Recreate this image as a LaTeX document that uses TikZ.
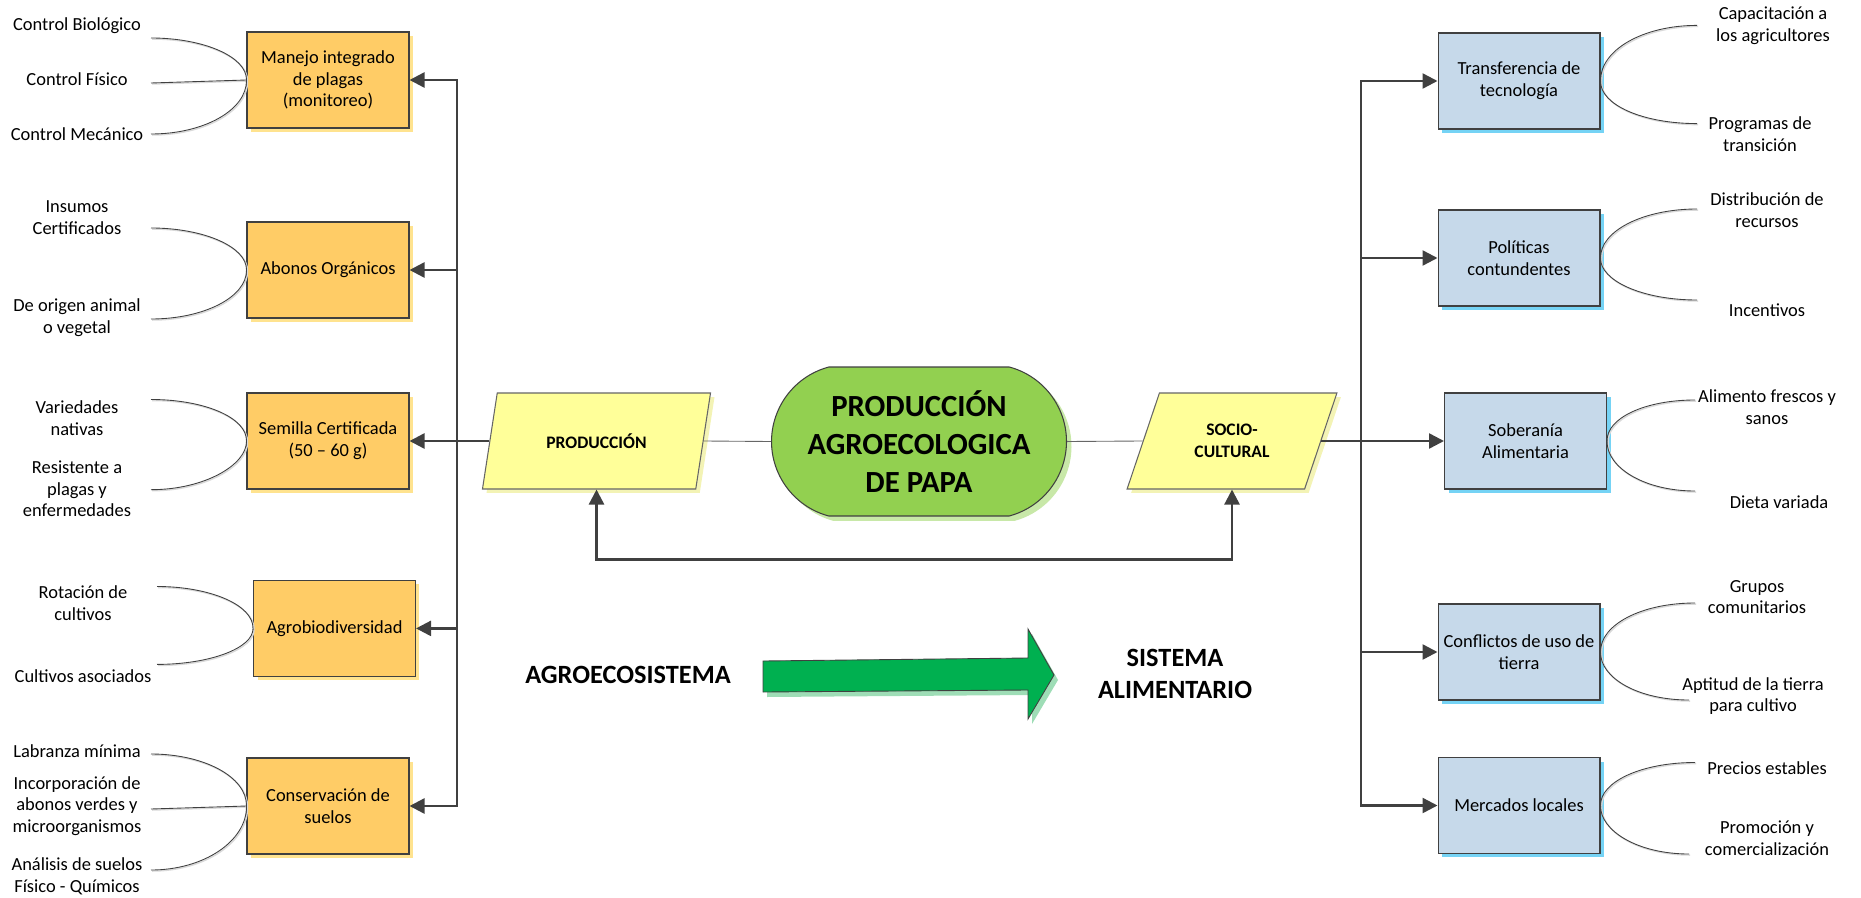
\documentclass[tikz,border=0pt]{standalone}
\usepackage{fontspec}
\setmainfont{Carlito}
\usetikzlibrary{shapes.geometric,shapes.misc,shadows,arrows.meta}

\definecolor{naranja}{HTML}{FFCC66}
\definecolor{sombranaranja}{HTML}{FFE38F}
\definecolor{azul}{HTML}{C6D9EA}
\definecolor{sombraazul}{HTML}{75D3F5}
\definecolor{amarillo}{HTML}{FFFF99}
\definecolor{sombraamarillo}{HTML}{F3F3B5}
\definecolor{verde}{HTML}{92D050}
\definecolor{sombraverde}{HTML}{C8E8A8}
\definecolor{verdeflecha}{HTML}{00B050}
\definecolor{sombraflecha}{HTML}{9EDDB6}
\definecolor{borde}{HTML}{404040}

\begin{document}
\begin{tikzpicture}[x=0.02cm, y=-0.02cm,
    texto/.style={font=\fontsize{10.5}{12.35}\selectfont, align=center, inner sep=0pt},
    caja/.style={texto, draw=borde, line width=0.6pt, minimum width=3.24cm, minimum height=1.92cm},
    cajaizq/.style={caja, fill=naranja, drop shadow={shadow xshift=0.08cm, shadow yshift=-0.08cm, fill=sombranaranja, opacity=1}},
    cajader/.style={caja, fill=azul, drop shadow={shadow xshift=0.08cm, shadow yshift=-0.08cm, fill=sombraazul, opacity=1}},
    paralelo/.style={trapezium, trapezium left angle=63.4, trapezium right angle=116.6, trapezium stretches=true,
        draw=borde!80, line width=0.6pt, fill=amarillo, minimum height=1.92cm, align=center, inner sep=0pt,
        font=\bfseries\fontsize{10}{12.35}\selectfont,
        drop shadow={shadow xshift=0.08cm, shadow yshift=-0.08cm, fill=sombraamarillo, opacity=1}},
    centro/.style={rounded rectangle, rounded rectangle arc length=150, draw=borde, line width=0.6pt, fill=verde,
        minimum width=5.4cm, minimum height=2.98cm, inner xsep=-0.25cm, inner ysep=0pt, align=center,
        font=\bfseries\fontsize{17.5}{21.6}\selectfont,
        drop shadow={shadow xshift=0.1cm, shadow yshift=-0.1cm, fill=sombraverde, opacity=1}},
    titulo/.style={font=\bfseries\fontsize{15}{18.2}\selectfont, align=center, inner sep=0pt},
    linea/.style={draw=borde, line width=1.4pt},
    flecha/.style={linea, -{Triangle[length=0.3cm, width=0.3cm]}},
    fina/.style={draw=borde!80, line width=0.5pt},
    rama/.style={draw=borde, line width=0.5pt, preaction={draw=black!15, line width=0.8pt, transform canvas={xshift=0.6pt, yshift=-0.6pt}}}
]
    \useasboundingbox (0,0) rectangle (1861,898);

    % cajas de la izquierda
    \node[cajaizq] (manejo) at (328,80) {Manejo integrado\\de plagas\\(monitoreo)};
    \node[cajaizq] (abonos) at (328,270) {Abonos Orgánicos};
    \node[cajaizq] (semilla) at (328,441) {Semilla Certificada\\(50 -- 60 g)};
    \node[cajaizq] (agro) at (334.5,628.4) {Agrobiodiversidad};
    \node[cajaizq] (suelos) at (328,806) {Conservación de\\suelos};

    % cajas de la derecha
    \node[cajader] (transf) at (1519,81) {Transferencia de\\tecnología};
    \node[cajader] (politicas) at (1519,258) {Políticas\\contundentes};
    \node[cajader] (soberania) at (1525.5,441) {Soberanía\\Alimentaria};
    \node[cajader] (conflictos) at (1519,652) {Conflictos de uso de\\tierra};
    \node[cajader] (mercados) at (1519,805.5) {Mercados locales};

    % centro
    \node[paralelo, minimum width=4.58cm] (prod) at (596.5,441) {PRODUCCIÓN};
    \node[paralelo, minimum width=4.2cm] (socio) at (1232,441) {SOCIO-\\CULTURAL};
    \node[centro] (papa) at (919,441.5) {PRODUCCIÓN\\AGROECOLOGICA\\DE PAPA};

    \coordinate (troncoizq) at (457,441);
    \coordinate (troncoder) at (1361,441);

    \draw[fina] (prod.right side) -- (papa.west);
    \draw[fina] (papa.east) -- (socio.left side);
    \draw[linea] (prod.left side) -- (troncoizq);
    \draw[linea] (socio.right side) -- (troncoder);

    \draw[flecha] (troncoizq) |- (manejo.east);
    \draw[flecha] (troncoizq) |- (abonos.east);
    \draw[flecha] (troncoizq) -- (semilla.east);
    \draw[flecha] (troncoizq) |- (agro.east);
    \draw[flecha] (troncoizq) |- (suelos.east);

    \draw[flecha] (troncoder) |- (transf.west);
    \draw[flecha] (troncoder) |- (politicas.west);
    \draw[flecha] (troncoder) -- (soberania.west);
    \draw[flecha] (troncoder) |- (conflictos.west);
    \draw[flecha] (troncoder) |- (mercados.west);

    \draw[linea, {Triangle[length=0.3cm, width=0.3cm]}-{Triangle[length=0.3cm, width=0.3cm]}]
        (prod.south) -- ++(0,70) -| (socio.south);

    % flecha grande
    \fill[sombraflecha, shift={(4,5)}] (763,661) -- (1028,658) -- (1028,629) -- (1054,675) -- (1028,719) -- (1028,690) -- (763,692) -- cycle;
    \filldraw[fill=verdeflecha, draw=borde, line width=0.5pt] (763,661) -- (1028,658) -- (1028,629) -- (1054,675) -- (1028,719) -- (1028,690) -- (763,692) -- cycle;
    \node[titulo] (agroeco) at (628,675) {AGROECOSISTEMA};
    \node[titulo] (sistema) at (1175,674) {SISTEMA\\ALIMENTARIO};

    % hojas de la izquierda
    \node[texto] (biologico) at (77,26) {Control Biológico};
    \node[texto] (fisico) at (77,79) {Control Físico};
    \node[texto] (mecanico) at (77,134) {Control Mecánico};
    \node[texto] (insumos) at (77,218) {Insumos\\Certificados};
    \node[texto] (origen) at (77,318) {De origen animal\\o vegetal};
    \node[texto] (variedades) at (77,418.5) {Variedades\\nativas};
    \node[texto] (resistente) at (77,489) {Resistente a\\plagas y\\enfermedades};
    \node[texto] (rotacion) at (83,603) {Rotación de\\cultivos};
    \node[texto] (asociados) at (83,675.7) {Cultivos asociados};
    \node[texto] (labranza) at (77,751) {Labranza mínima};
    \node[texto] (incorporacion) at (77,806) {Incorporación de\\abonos verdes y\\microorganismos};
    \node[texto] (analisis) at (77,876.5) {Análisis de suelos\\Físico - Químicos};

    % hojas de la derecha
    \node[texto] (capacitacion) at (1773,25.5) {Capacitación a\\los agricultores};
    \node[texto] (programas) at (1760,134) {Programas de\\transición};
    \node[texto] (distribucion) at (1767,210) {Distribución de\\recursos};
    \node[texto] (incentivos) at (1767,310) {Incentivos};
    \node[texto] (alimento) at (1767,407.5) {Alimento frescos y\\sanos};
    \node[texto] (dieta) at (1779,502) {Dieta variada};
    \node[texto] (grupos) at (1757,597) {Grupos\\comunitarios};
    \node[texto] (aptitud) at (1753,696) {Aptitud de la tierra\\para cultivo};
    \node[texto] (precios) at (1767,767.7) {Precios estables};
    \node[texto] (promocion) at (1767,838.5) {Promoción y\\comercialización};

    % extremos de las ramas
    \coordinate (r1) at (151,38);
    \coordinate (r2) at (151,83);
    \coordinate (r3) at (151,134);
    \coordinate (r4) at (151,228);
    \coordinate (r5) at (151,319);
    \coordinate (r6) at (151,399.5);
    \coordinate (r7) at (151,489.7);
    \coordinate (r8) at (157,586.5);
    \coordinate (r9) at (157,664.4);
    \coordinate (r10) at (151,754);
    \coordinate (r11) at (151,809);
    \coordinate (r12) at (151,870);

    \draw[rama] (r1) .. controls (204,38) and (247,57) .. (manejo.west);
    \draw[rama] (r2) -- (manejo.west);
    \draw[rama] (r3) .. controls (204,134) and (247,110) .. (manejo.west);
    \draw[rama] (r4) .. controls (204,228) and (247,247) .. (abonos.west);
    \draw[rama] (r5) .. controls (204,319) and (247,297) .. (abonos.west);
    \draw[rama] (r6) .. controls (204,399.5) and (247,417.5) .. (semilla.west);
    \draw[rama] (r7) .. controls (204,489.7) and (247,465) .. (semilla.west);
    \draw[rama] (r8) .. controls (210,586.5) and (253.5,605) .. (agro.west);
    \draw[rama] (r9) .. controls (210,664.4) and (253.5,648) .. (agro.west);
    \draw[rama] (r10) .. controls (204,754) and (247,777) .. (suelos.west);
    \draw[rama] (r11) -- (suelos.west);
    \draw[rama] (r12) .. controls (204,870) and (247,841) .. (suelos.west);

    \coordinate (s1) at (1697,25.4);
    \coordinate (s2) at (1697,123.6);
    \coordinate (s3) at (1697,209);
    \coordinate (s4) at (1697,300);
    \coordinate (s5) at (1695,400);
    \coordinate (s6) at (1695,491);
    \coordinate (s7) at (1695,603);
    \coordinate (s8) at (1689,700);
    \coordinate (s9) at (1695,762.5);
    \coordinate (s10) at (1689,854);

    \draw[rama] (transf.east) .. controls (1600,50) and (1643,25.4) .. (s1);
    \draw[rama] (transf.east) .. controls (1600,105) and (1643,123.6) .. (s2);
    \draw[rama] (politicas.east) .. controls (1600,231) and (1643,209) .. (s3);
    \draw[rama] (politicas.east) .. controls (1600,281) and (1643,300) .. (s4);
    \draw[rama] (soberania.east) .. controls (1606.5,418) and (1645,400) .. (s5);
    \draw[rama] (soberania.east) .. controls (1606.5,468) and (1645,491) .. (s6);
    \draw[rama] (conflictos.east) .. controls (1600,625) and (1641,603) .. (s7);
    \draw[rama] (conflictos.east) .. controls (1600,678) and (1638,700) .. (s8);
    \draw[rama] (mercados.east) .. controls (1600,782) and (1641,762.5) .. (s9);
    \draw[rama] (mercados.east) .. controls (1600,831) and (1638,854) .. (s10);
\end{tikzpicture}
\end{document}
